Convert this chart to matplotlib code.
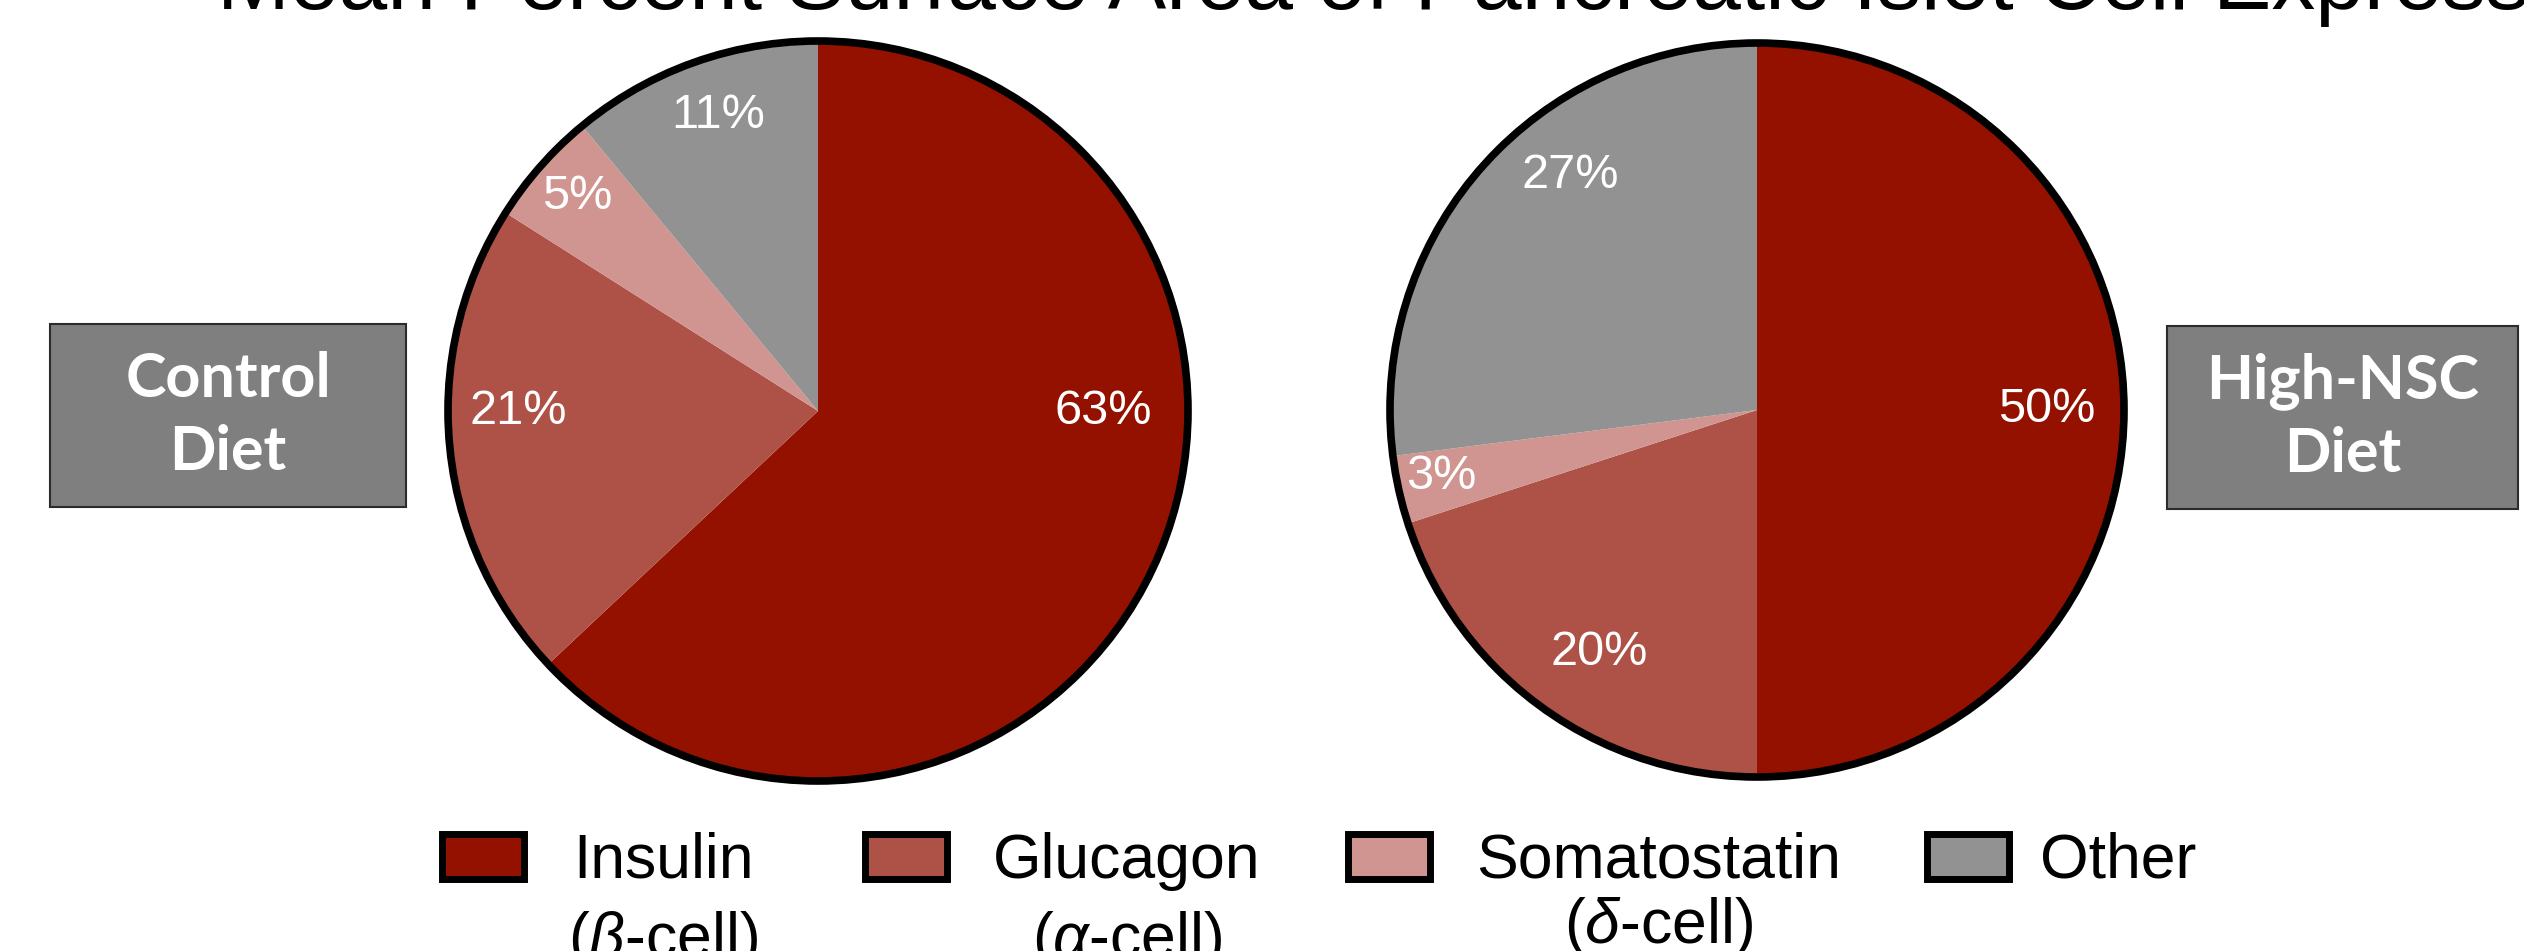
import matplotlib
matplotlib.use("Agg")
import matplotlib.pyplot as plt
from matplotlib.patches import Circle, Rectangle

W, H = 2524, 951

# data
cell_types = ["Insulin", "Glucagon", "Somatostatin", "Other"]
cell_subs = [r"($\beta$-cell)", r"($\alpha$-cell)", r"($\delta$-cell)", None]
colors = ["#941100", "#AE5146", "#D09590", "#929292"]
control_pct = [63, 21, 5, 11]
high_nsc_pct = [50, 20, 3, 27]
diet_names = ["Control\nDiet", "High-NSC\nDiet"]
title = "Mean Percent Surface Area of Pancreatic Islet Cell Expression"

# label positions inside each pie, in units of radius
control_lbl_xy = [(0.77, 0.0), (-0.81, 0.0), (-0.65, 0.58), (-0.27, 0.80)]
high_lbl_xy = [(0.79, 0.0), (-0.43, -0.66), (-0.86, -0.18), (-0.51, 0.64)]

plt.rcParams["font.family"] = ["Liberation Sans", "DejaVu Sans"]
plt.rcParams["mathtext.fontset"] = "custom"
plt.rcParams["mathtext.it"] = "Liberation Sans:italic"
plt.rcParams["mathtext.rm"] = "Liberation Sans"

fig = plt.figure(figsize=(W / 100, H / 100), dpi=100)


def px_axes(cx, cy, r):
    # axes square around a pie centre given in pixels (y from top)
    return fig.add_axes([(cx - r) / W, 1 - (cy + r) / H, 2 * r / W, 2 * r / H])


def draw_pie(ax, vals, lbl_xy):
    ax.pie(vals, colors=colors, startangle=90, counterclock=False,
           radius=1, wedgeprops=dict(linewidth=0))
    ax.add_patch(Circle((0, 0), 1, fill=False, ec="black", lw=5.5, clip_on=False))
    for v, (x, y) in zip(vals, lbl_xy):
        ax.text(x, y, f"{v}%", color="white", fontsize=35, ha="center", va="center")
    ax.set_xlim(-1, 1)
    ax.set_ylim(-1, 1)
    ax.set_aspect("equal")
    ax.axis("off")


ax1 = px_axes(818, 411, 370)
draw_pie(ax1, control_pct, control_lbl_xy)
ax2 = px_axes(1757, 410, 367)
draw_pie(ax2, high_nsc_pct, high_lbl_xy)

# diet boxes
boxes = [(50, 324, 356, 183), (2167, 326, 351, 183)]
for (bx, by, bw, bh), name in zip(boxes, diet_names):
    fig.patches.append(Rectangle((bx / W, 1 - (by + bh) / H), bw / W, bh / H,
                                 transform=fig.transFigure, fc="#7F7F7F",
                                 ec="#2b2b2b", lw=1.5))
    fig.text((bx + bw / 2) / W, 1 - (by + bh / 2) / H, name, color="white",
             fontsize=44, fontweight="bold", family=["Lato", "DejaVu Sans"],
             ha="center", va="center", linespacing=1.35)

# title, cut by the top edge as in the original
fig.text(217 / W, 1 - 9 / H, title, fontsize=63, ha="left", va="baseline")

# legend drawn by hand
sq_x = [438, 861, 1344, 1923]
txt_x = [573, 993, 1476, 2040]
sub_base = [957, 957, 943, None]
fig.canvas.draw()
rend = fig.canvas.get_renderer()
for i, name in enumerate(cell_types):
    fig.patches.append(Rectangle(((sq_x[i] + 3.5) / W, 1 - 878.5 / H),
                                 82 / W, 45 / H, transform=fig.transFigure,
                                 fc=colors[i], ec="black", lw=5))
    t = fig.text(txt_x[i] / W, 1 - 878 / H, name, fontsize=45, ha="left", va="baseline")
    if cell_subs[i]:
        bb = t.get_window_extent(rend)
        fig.text((bb.x0 + bb.x1) / 2 / W, 1 - sub_base[i] / H, cell_subs[i],
                 fontsize=45, ha="center", va="baseline")

fig.savefig("out.png", dpi=100)
